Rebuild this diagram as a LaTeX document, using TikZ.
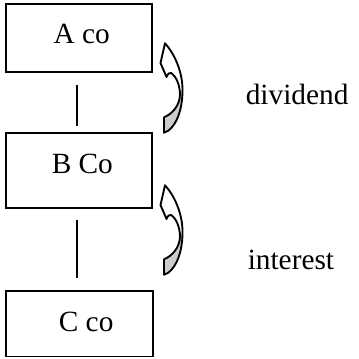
\documentclass[tikz,border=0pt]{standalone}
\usepackage{fontspec}
\setmainfont{Liberation Serif}
\tikzset{
  curvarrow/.pic={
    \begin{scope}
      \clip (164,132.7) -- (164,117.3)
        .. controls (172,114) and (179.5,106) .. (180,95)
        .. controls (180,85) and (176,76) .. (171,73)
        .. controls (169,72) and (168,74) .. (166.5,77)
        -- (160.5,63) -- (165,43.3)
        .. controls (173,52) and (183,70) .. (182.5,92)
        .. controls (182,110) and (177,124) .. (168.3,130.7) -- cycle;
      \fill[white] (150,30) rectangle (190,140);
      \fill[gray!40] (150,90) rectangle (190,140);
    \end{scope}
    \draw[line width=1.4pt, line join=round] (164,132.7) -- (164,117.3)
        .. controls (172,114) and (179.5,106) .. (180,95)
        .. controls (180,85) and (176,76) .. (171,73)
        .. controls (169,72) and (168,74) .. (166.5,77)
        -- (160.5,63) -- (165,43.3)
        .. controls (173,52) and (183,70) .. (182.5,92)
        .. controls (182,110) and (177,124) .. (168.3,130.7) -- cycle;
  }
}
\begin{document}
\begin{tikzpicture}[x=0.75pt,y=-0.75pt,
  box/.style={draw, line width=1.1pt, inner sep=0pt, minimum width=109.5pt,
    font=\fontsize{22}{26}\selectfont, text height=15pt},
  lbl/.style={inner sep=0pt, anchor=base west, font=\fontsize{22}{26}\selectfont},
  link/.style={line width=1.1pt}]
  \useasboundingbox (0,0) rectangle (358,359);

  \node[box, minimum height=51pt, text depth=7pt] (A) at (79,38) {\hspace*{4pt}A co};
  \node[box, minimum height=56.25pt, text depth=10.8pt] (B) at (79,170.5) {\hspace*{5pt}B Co};
  \node[box, minimum width=110.25pt, minimum height=49.1pt, text depth=2.7pt] (C) at (79.5,323.75) {\hspace*{10pt}C co};

  \draw[link, shorten <=9pt, shorten >=4.5pt] ([xshift=-1.5pt]A.south) -- ([xshift=-1.5pt]B.north);
  \draw[link, shorten <=8.25pt, shorten >=9pt] ([xshift=-1.5pt]B.south) -- ([xshift=-1.5pt]B.south |- C.north);

  \pic (arr1) at (0,0) {curvarrow};
  \pic (arr2) at (0,142) {curvarrow};

  \node[lbl] (div) at (245.5,104.5) {dividend};
  \node[lbl] (int) at (247.5,269) {interest};
\end{tikzpicture}
\end{document}
